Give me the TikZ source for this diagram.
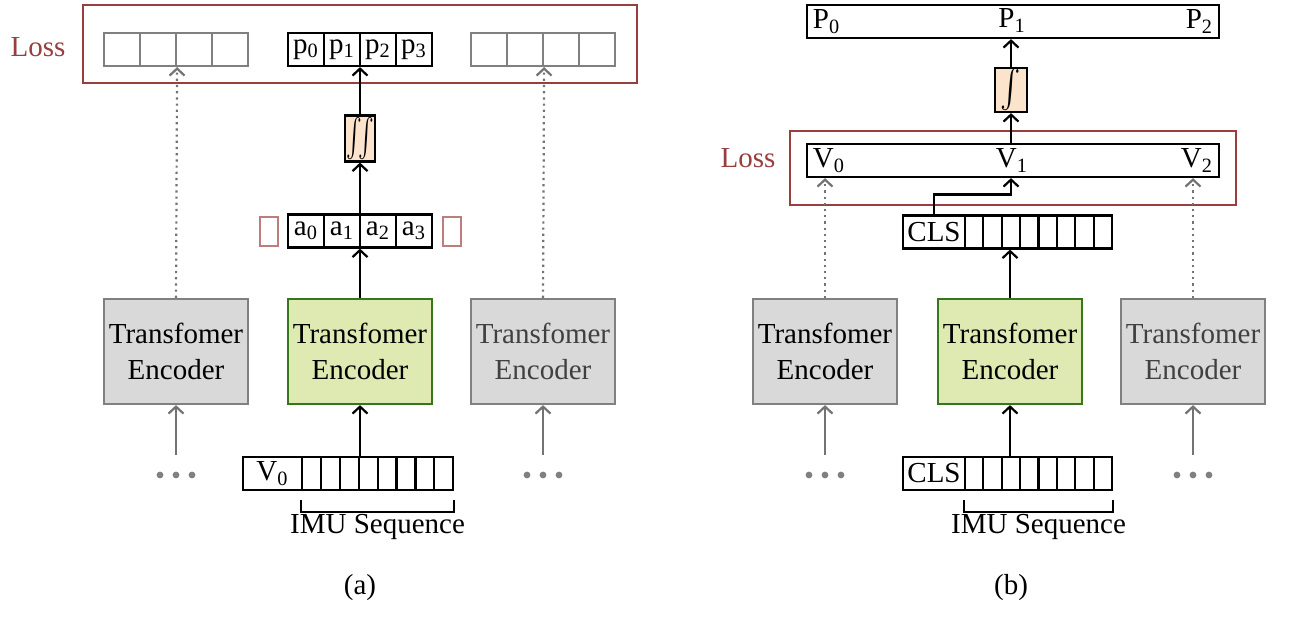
\documentclass[tikz,border=0pt]{standalone}
\usepackage{fontspec}
\setmainfont{Liberation Serif}
\usepackage{amsmath}
\usepackage{amssymb}
\usetikzlibrary{arrows,arrows.meta,positioning}

\definecolor{lossred}{RGB}{152,62,62}
\definecolor{padred}{RGB}{190,125,125}
\definecolor{encgray}{RGB}{217,217,217}
\definecolor{encgreen}{RGB}{222,234,178}
\definecolor{encline}{RGB}{56,118,29}
\definecolor{intfill}{RGB}{252,228,204}

\begin{document}
\begin{tikzpicture}[x=0.5pt,y=-0.5pt,font=\fontsize{14.5}{18}\selectfont,
  >={Straight Barb[length=3.5pt,width=7.5pt]},
  cell/.style={draw,line width=1.1pt,inner sep=0pt,minimum width=18pt,minimum height=16.5pt},
  graycell/.style={cell,draw=black!50},
  padbox/.style={draw=padred,line width=1pt,inner sep=0pt,minimum width=9pt,minimum height=14.5pt},
  intbox/.style={draw,fill=intfill,line width=1.1pt,inner sep=0pt,minimum width=15pt,minimum height=23pt},
  encoder/.style={draw=black!50,fill=encgray,line width=1.1pt,align=center,inner sep=0pt,minimum width=72pt,minimum height=52.5pt},
  encmain/.style={encoder,draw=encline,fill=encgreen},
  lossbox/.style={draw=lossred,line width=1.2pt,inner sep=0pt},
  dotsn/.style={inner sep=0pt,minimum width=20pt,minimum height=20pt},
  arr/.style={->,line width=1.1pt},
  dotarr/.style={->,black!55,line width=1.1pt,dotted},
  grayarr/.style={->,black!55,line width=1.1pt}]
  \useasboundingbox (0,0) rectangle (1289,632);

  % (a)
  \node[lossbox,minimum width=277pt,minimum height=39pt] (lossboxa) at (360,44) {};
  \node[lossred] (lossa) at (38,47) {Loss};
  \foreach \i in {0,...,3}{
    \node[graycell] (gl\i) at ({122+36*\i},49.5) {};
    \node[cell] (p\i) at ({306+36*\i},49.5) {p\textsubscript{\i}};
    \node[graycell] (gr\i) at ({489+36*\i},49.5) {};
    \node[cell] (a\i) at ({306+36*\i},231) {a\textsubscript{\i}};
  }
  \node[padbox] (padl) at (269,231.5) {};
  \node[padbox] (padr) at (451.5,231.5) {};
  \node[intbox] (inta) at (360,138.5) {\fontsize{19}{19}\selectfont\scalebox{0.62}[1]{$\iint$}};

  \node[encoder] (encal) at (176,351.5) {Transfomer\\Encoder};
  \node[encmain] (encam) at (360,351.5) {Transfomer\\Encoder};
  \node[encoder,text=black!75] (encar) at (543,351.5) {Transfomer\\Encoder};

  \node[cell,minimum width=29.5pt] (seqa0) at (272.5,473.5) {V\textsubscript{0}};
  \foreach \i in {1,...,8}
    \node[cell,minimum width=9.45pt] (seqa\i) at ({292.55+18.9*\i},473.5) {};

  \node[dotsn] (dotsal) at (176,475) {};
  \node[dotsn] (dotsar) at (543,475) {};
  \foreach \n in {dotsal,dotsar}
    \foreach \d in {-8,0,8}
      \fill[black!50] ([xshift=\d pt]\n.center) circle (1.7pt);

  \draw[arr] (encam.south |- seqa4.north) -- (encam.south);
  \draw[arr] (encam.north) -- (encam.north |- a1.south);
  \draw[arr] (inta.south |- a1.north) -- (inta.south);
  \draw[arr] (inta.north) -- (inta.north |- p1.south);
  \draw[dotarr] (encal.north) -- (gl1.south east);
  \draw[dotarr] (encar.north) -- (gr1.south east);
  \draw[grayarr] (dotsal.north) -- (encal.south);
  \draw[grayarr] (dotsar.north) -- (encar.south);

  \draw[line width=1.1pt] ([yshift=-4.5pt]seqa1.south west) -- ++(0,12) -| ([yshift=-4.5pt]seqa8.south east);
  \node (imua) at (377.5,527) {IMU Sequence};
  \node (capa) at (360,588) {(a)};

  % (b)
  \node[cell,minimum width=206pt] (pbox) at (1013,21.5) {};
  \node[anchor=west] (P0) at (pbox.west) {P\textsubscript{0}};
  \node (P1) at (1012,20.5) {P\textsubscript{1}};
  \node[anchor=east] (P2) at (pbox.east) {P\textsubscript{2}};
  \node[intbox,minimum width=16pt,minimum height=22pt] (intb) at (1011,90) {\fontsize{19}{19}\selectfont\scalebox{0.8}[1]{$\int$}};

  \node[lossbox,minimum width=223pt,minimum height=37pt] (lossboxb) at (1013,168) {};
  \node[lossred] (lossb) at (748,158) {Loss};
  \node[cell,minimum width=206pt] (vbox) at (1013,160.5) {};
  \node[anchor=west] (V0) at (vbox.west) {V\textsubscript{0}};
  \node (V1) at (1012,160.5) {V\textsubscript{1}};
  \node[anchor=east] (V2) at (vbox.east) {V\textsubscript{2}};

  \node[cell,minimum width=31pt] (clsu0) at (934,232) {CLS};
  \node[cell,minimum width=31pt] (clsb0) at (934,473.5) {CLS};
  \foreach \i in {1,...,8}{
    \node[cell,minimum width=9.19pt] (clsu\i) at ({955.8+18.375*\i},232) {};
    \node[cell,minimum width=9.19pt] (clsb\i) at ({955.8+18.375*\i},473.5) {};
  }

  \node[encoder] (encbl) at (825,351.5) {Transfomer\\Encoder};
  \node[encmain] (encbm) at (1010,351.5) {Transfomer\\Encoder};
  \node[encoder,text=black!75] (encbr) at (1193,351.5) {Transfomer\\Encoder};

  \node[dotsn] (dotsbl) at (825,475) {};
  \node[dotsn] (dotsbr) at (1193,475) {};
  \foreach \n in {dotsbl,dotsbr}
    \foreach \d in {-8,0,8}
      \fill[black!50] ([xshift=\d pt]\n.center) circle (1.7pt);

  \draw[arr] (encbm.south |- clsb3.north) -- (encbm.south);
  \draw[arr] (encbm.north) -- (encbm.north |- clsu3.south);
  \draw[arr] (clsu0.north) -- ++(0,-20) -| (intb.south |- vbox.south);
  \draw[arr] (intb.south |- vbox.north) -- (intb.south);
  \draw[arr] (intb.north) -- (intb.north |- pbox.south);
  \draw[dotarr] (encbl.north) -- (encbl.north |- vbox.south);
  \draw[dotarr] (encbr.north) -- (encbr.north |- vbox.south);
  \draw[grayarr] (dotsbl.north) -- (encbl.south);
  \draw[grayarr] (dotsbr.north) -- (encbr.south);

  \draw[line width=1.1pt] ([yshift=-4.5pt]clsb1.south west) -- ++(0,12) -| ([yshift=-4.5pt]clsb8.south east);
  \node (imub) at (1038.5,527) {IMU Sequence};
  \node (capb) at (1011,588) {(b)};
\end{tikzpicture}
\end{document}
